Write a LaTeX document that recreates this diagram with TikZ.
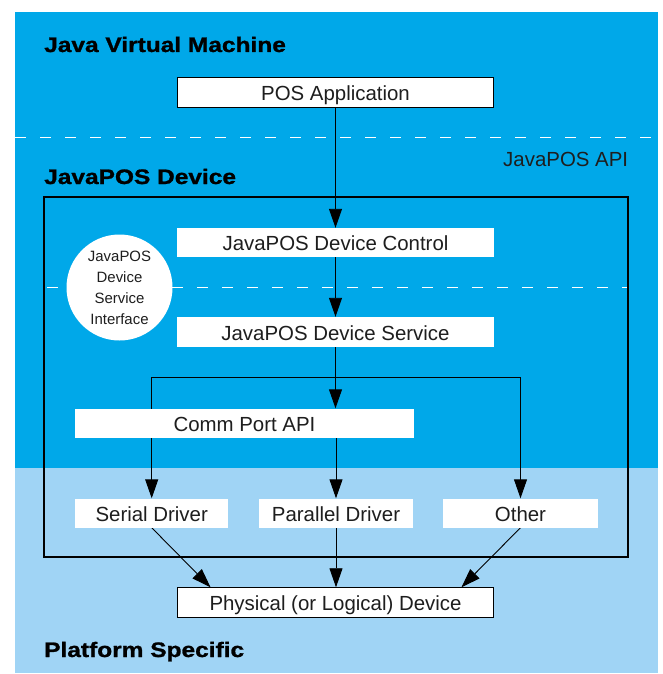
\documentclass[tikz,border=0pt]{standalone}
\usepackage{fontspec}
\setmainfont{Liberation Sans}
\newfontfamily\headfont[FakeStretch=1.17,FakeBold=1.2]{Liberation Sans Bold}
\usetikzlibrary{arrows.meta,calc}
\definecolor{darkbg}{RGB}{0,168,233}
\definecolor{lightbg}{RGB}{160,212,245}
\definecolor{txt}{RGB}{30,30,30}
\pgfdeclarelayer{bg}
\pgfdeclarelayer{lines}
\pgfsetlayers{bg,lines,main}
\tikzset{
  box/.style={fill=white, inner sep=0pt, text height=16bp, text depth=0pt,
    font=\fontsize{20.5}{24}\selectfont, text=txt},
  framedbox/.style={box, draw=black, line width=0.9bp},
  heading/.style={anchor=base west, inner sep=0pt, font=\headfont\fontsize{21}{24}\selectfont, text=black},
  arr/.style={line width=0.9bp, -{Triangle[length=19bp,width=13bp]}},
  conn/.style={line width=0.9bp},
  sepline/.style={draw=white, line width=1.2bp, dash pattern=on 11bp off 14bp}
}
\begin{document}
\begin{tikzpicture}[x=1bp,y=-1bp]
\useasboundingbox (0,0) rectangle (663,674);
\begin{pgfonlayer}{bg}
  \fill[darkbg] (15,12) rectangle (658,468);
  \fill[lightbg] (15,468) rectangle (658,673);
\end{pgfonlayer}

% headings
\node[heading] (jvm) at (44,52) {Java Virtual Machine};
\node[heading] (jpd) at (44,184) {JavaPOS Device};
\node[heading] (plat) at (44,657) {Platform Specific};
\node[anchor=base east, inner sep=0pt, font=\fontsize{20.5}{24}\selectfont, text=txt] (api) at (628.3,166) {JavaPOS API};

% device frame
\node[draw=black, line width=2bp, inner sep=0pt, minimum width=583.7bp, minimum height=360bp] (devbox) at (335.85,377.3) {};

% boxes
\node[framedbox, minimum width=316bp, minimum height=30bp] (pos) at (335.5,92.3) {POS Application};
\node[box, minimum width=317bp, minimum height=29bp] (control) at (335.5,242.5) {JavaPOS Device Control};
\node[box, minimum width=317bp, minimum height=30bp] (service) at (335.5,332) {JavaPOS Device Service};
\node[box, minimum width=339bp, minimum height=29bp] (comm) at (244.5,423) {Comm Port API};
\node[box, minimum width=153bp, minimum height=29bp] (serial) at (151.7,513) {Serial Driver};
\node[box, minimum width=154bp, minimum height=29bp] (parallel) at (336,513) {Parallel Driver};
\node[box, minimum width=155bp, minimum height=29bp] (other) at (520.5,513) {Other};
\node[framedbox, minimum width=316bp, minimum height=30bp] (phys) at (335.5,602.7) {Physical (or Logical) Device};

% interface circle
\node[circle, fill=white, minimum size=106bp, inner sep=0pt, align=center, text=txt,
  font=\fontsize{15}{21}\selectfont] (dsi) at (119.5,287.5) {JavaPOS\\Device\\Service\\Interface};

% coordinates
\coordinate (d1a) at (15,137.3);
\coordinate (d1b) at (658,137.3);
\coordinate (d2a) at (47,287.5);
\coordinate (d2b) at (627,287.5);
\coordinate (br) at (336,377.3);

\begin{pgfonlayer}{lines}
  \draw[sepline] (d1a) -- (d1b);
  \draw[sepline] (d2a) -- (d2b);
  \draw[arr] (pos.south) -- (control.north);
  \draw[arr] (control.south) -- (service.north);
  \draw[arr] (service.south) -- (service.south |- comm.north);
  \draw[conn] (serial.north |- br) -- (other.north |- br);
  \draw[arr] (serial.north |- br) -- (serial.north);
  \draw[arr] (other.north |- br) -- (other.north);
  \draw[arr] (parallel.north |- comm.south) -- (parallel.north);
  \draw[arr] (serial.south) -- ($(phys.north)+(-125,0)$);
  \draw[arr] (parallel.south) -- (parallel.south |- phys.north);
  \draw[arr] (other.south) -- ($(phys.north)+(126,0)$);
\end{pgfonlayer}
\end{tikzpicture}
\end{document}
